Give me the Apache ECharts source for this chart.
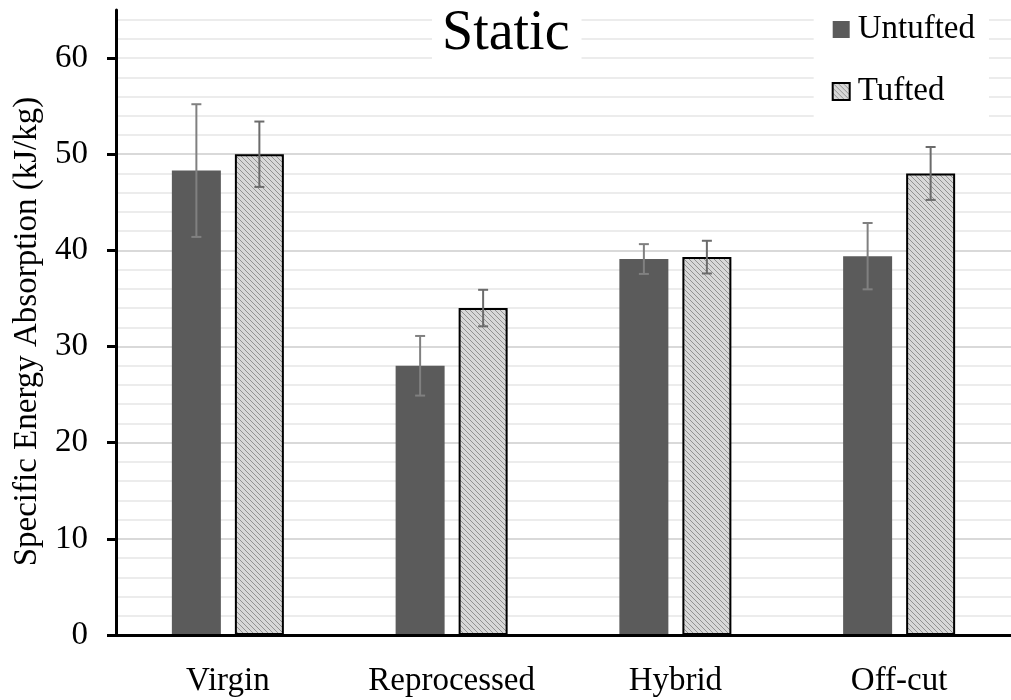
<!DOCTYPE html>
<html>
<head>
<meta charset="utf-8">
<script src="https://cdn.jsdelivr.net/npm/echarts@6/dist/echarts.min.js"></script>
<style>
  html, body { margin: 0; padding: 0; background: #fff; }
  #chart { width: 1011px; height: 700px; }
</style>
</head>
<body>
<div id="chart"></div>
<script>
// Specific energy absorption, static test (kJ/kg)
const categories = ['Virgin', 'Reprocessed', 'Hybrid', 'Off-cut'];
const untufted = [48.3, 28.0, 39.1, 39.4];
const untuftedErr = [6.9, 3.1, 1.55, 3.45];
const tufted = [50.0, 34.0, 39.3, 48.0];
const tuftedErr = [3.4, 1.9, 1.7, 2.75];
const yTicks = [0, 10, 20, 30, 40, 50, 60];

const FONT = 'Liberation Serif';
const BAR_W = 49;
const BAR_GAP = 14;

// light grey fill with thin diagonal hatching
function hatchPattern() {
  const s = 5;
  const c = document.createElement('canvas');
  c.width = s; c.height = s;
  const ctx = c.getContext('2d');
  ctx.fillStyle = '#d8d8d8';
  ctx.fillRect(0, 0, s, s);
  ctx.strokeStyle = '#929292';
  ctx.lineWidth = 1;
  ctx.beginPath();
  ctx.moveTo(-1, -1); ctx.lineTo(s + 1, s + 1);
  ctx.moveTo(-1, s - 1); ctx.lineTo(1, s + 1);
  ctx.moveTo(s - 1, -1); ctx.lineTo(s + 1, 1);
  ctx.stroke();
  return { image: c, repeat: 'repeat' };
}

function errorData(vals, errs) {
  return vals.map((v, i) => [i, v - errs[i], v + errs[i]]);
}

function errorBars(offset, color) {
  return function (params, api) {
    const i = api.value(0);
    const lo = api.coord([i, api.value(1)]);
    const hi = api.coord([i, api.value(2)]);
    const x = lo[0] + offset;
    const cap = 5;
    const style = { stroke: color, lineWidth: 2 };
    return {
      type: 'group',
      children: [
        { type: 'line', shape: { x1: x, y1: hi[1], x2: x, y2: lo[1] }, style },
        { type: 'line', shape: { x1: x - cap, y1: hi[1], x2: x + cap, y2: hi[1] }, style },
        { type: 'line', shape: { x1: x - cap, y1: lo[1], x2: x + cap, y2: lo[1] }, style }
      ]
    };
  };
}

const half = (BAR_W + BAR_GAP) / 2;
const chart = echarts.init(document.getElementById('chart'), null, { renderer: 'canvas' });

chart.setOption({
  animation: false,
  backgroundColor: '#fff',
  textStyle: { fontFamily: FONT },
  title: {
    text: 'Static',
    left: 432,
    top: 0,
    padding: [6, 12, 8, 10],
    backgroundColor: '#fff',
    textStyle: { fontFamily: FONT, fontSize: 56, fontWeight: 'normal', color: '#000' },
    z: 20
  },
  legend: {
    orient: 'vertical',
    right: 22,
    top: 0,
    padding: [13, 14, 18, 18],
    backgroundColor: '#fff',
    icon: 'rect',
    itemWidth: 17,
    itemHeight: 17,
    itemGap: 29,
    selectedMode: false,
    textStyle: { fontFamily: FONT, fontSize: 33, color: '#000', padding: [0, 0, 0, 3] },
    data: ['Untufted', 'Tufted'],
    z: 20
  },
  grid: { left: 116, right: 0, top: 10, bottom: 65, outerBoundsMode: 'none', containLabel: false },
  xAxis: {
    type: 'category',
    data: categories,
    axisLine: { lineStyle: { color: '#000', width: 3 } },
    axisTick: { show: false },
    axisLabel: { fontFamily: FONT, fontSize: 33, color: '#000', margin: 30 },
    splitLine: { show: false },
    z: 10
  },
  yAxis: [
    {
      type: 'value',
      min: 0,
      max: 65,
      interval: 10,
      name: 'Specific Energy Absorption (kJ/kg)',
      nameLocation: 'middle',
      nameGap: 70,
      nameTextStyle: { fontFamily: FONT, fontSize: 33, color: '#000', padding: [0, 18, 0, 0] },
      axisLine: { show: true, lineStyle: { color: '#000', width: 3 } },
      axisTick: { show: true, length: 9, customValues: yTicks, lineStyle: { color: '#000', width: 3 } },
      axisLabel: { fontFamily: FONT, fontSize: 33, color: '#000', margin: 28, customValues: yTicks },
      splitLine: { show: true, showMaxLine: false, lineStyle: { color: '#d9d9d9', width: 2 } },
      z: 1
    },
    {
      type: 'value',
      min: 0,
      max: 65,
      interval: 2,
      position: 'left',
      axisLine: { show: false },
      axisTick: { show: false },
      axisLabel: { show: false },
      splitLine: { show: true, showMaxLine: false, lineStyle: { color: '#ececec', width: 2 } },
      z: 0
    }
  ],
  series: [
    {
      name: 'Untufted',
      type: 'bar',
      data: untufted,
      barWidth: BAR_W,
      barGap: (BAR_GAP / BAR_W * 100).toFixed(1) + '%',
      itemStyle: { color: '#5b5b5b' },
      z: 3
    },
    {
      name: 'Tufted',
      type: 'bar',
      data: tufted,
      barWidth: BAR_W,
      itemStyle: { color: hatchPattern(), borderColor: '#000', borderWidth: 2 },
      z: 3
    },
    {
      type: 'custom',
      data: errorData(untufted, untuftedErr),
      encode: { x: 0, y: [1, 2] },
      renderItem: errorBars(-half, '#808080'),
      z: 4
    },
    {
      type: 'custom',
      data: errorData(tufted, tuftedErr),
      encode: { x: 0, y: [1, 2] },
      renderItem: errorBars(half, '#6b6b6b'),
      z: 4
    }
  ]
});
</script>
</body>
</html>
